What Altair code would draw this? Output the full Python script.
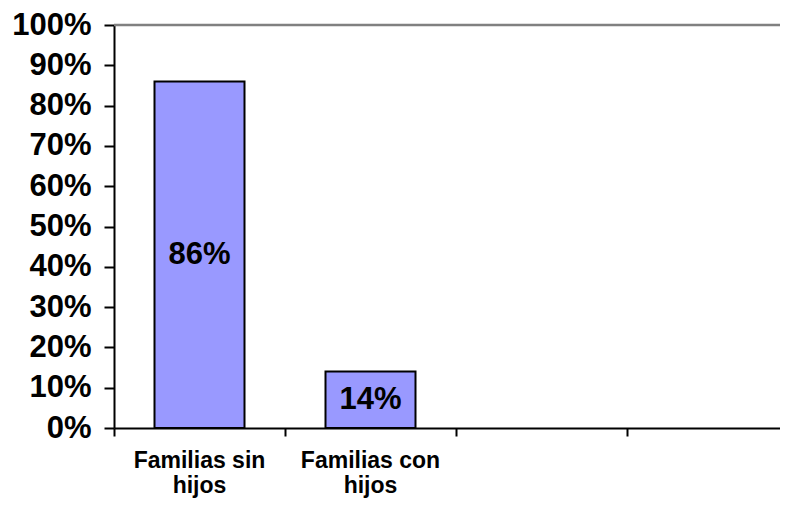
import altair as alt
import pandas as pd

# --- data ---
categories = ["Familias sin\nhijos", "Familias con\nhijos"]
empty_slots = ["slot3", "slot4"]
shares = [0.86, 0.14]
bar_labels = ["86%", "14%"]
y_ticks = [0.0, 0.1, 0.2, 0.3, 0.4, 0.5, 0.6, 0.7, 0.8, 0.9, 1.0]
top_line = [1.0]

df = pd.DataFrame({"cat": categories, "share": shares, "label": bar_labels})
x_domain = categories + empty_slots

FONT = "Liberation Sans"

x_scale = alt.Scale(domain=x_domain, range=[0, 684], paddingInner=0, paddingOuter=0)

x_enc = alt.X(
    "cat:N",
    scale=x_scale,
    axis=alt.Axis(
        title=None,
        labelAngle=0,
        bandPosition=0,
        labelExpr="indexof(datum.value, '\\n') >= 0 ? split(datum.value, '\\n') : ''",
        labelFont=FONT,
        labelFontSize=23,
        labelFontWeight="bold",
        labelColor="black",
        labelLineHeight=25,
        labelPadding=13,
        labelBaseline="top",
        tickSize=8,
        tickColor="black",
        tickWidth=2,
        domainColor="black",
        domainWidth=2,
        grid=False,
        labelFlush=False,
        labelOverlap=False,
    ),
)

y_scale = alt.Scale(domain=[0, 1], nice=False, zero=True)

bars = alt.Chart(df).mark_bar(
    size=90, fill="#9999FF", stroke="black", strokeWidth=2
).encode(
    x=x_enc,
    y=alt.Y(
        "share:Q",
        scale=y_scale,
        axis=alt.Axis(
            title=None,
            values=y_ticks,
            format=".0%",
            labelFont=FONT,
            labelFontSize=31,
            labelFontWeight="bold",
            labelColor="black",
            labelPadding=13,
            tickSize=10,
            tickColor="black",
            tickWidth=2,
            domainColor="black",
            domainWidth=2,
            grid=False,
        ),
    ),
)

texts = alt.Chart(df).transform_calculate(mid="datum.share / 2").mark_text(
    font=FONT, fontSize=31, fontWeight="bold", color="black", baseline="middle", align="center"
).encode(
    x=alt.X("cat:N", scale=x_scale),
    y=alt.Y("mid:Q", scale=y_scale),
    text="label:N",
)

rule = alt.Chart(pd.DataFrame({"y": top_line})).mark_rule(
    color="#808080", strokeWidth=2.5
).encode(y=alt.Y("y:Q", scale=y_scale), x=alt.value(0), x2=alt.value(684))

chart = alt.layer(rule, bars, texts).properties(
    width=666,
    height=403,
    autosize=alt.AutoSizeParams(type="none"),
    padding={"left": 106, "top": 17, "right": 0, "bottom": 71},
    background="white",
).configure_view(strokeWidth=0)

chart.save("out.html", embed_options={"renderer": "svg", "actions": False})
